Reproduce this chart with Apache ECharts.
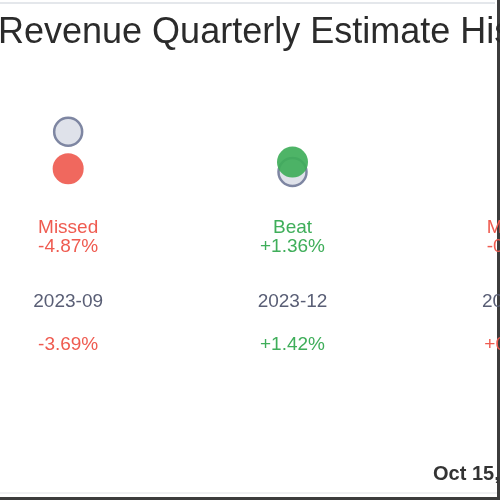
<!DOCTYPE html>
<html lang="en">
<head>
<meta charset="UTF-8">
<title>Revenue Quarterly Estimate History</title>
<script src="https://cdn.jsdelivr.net/npm/echarts@6/dist/echarts.min.js"></script>
<style>
  *{ margin:0; padding:0; }
  body{ background:#fff; }
  #chart{ width:500px; height:500px; }
</style>
</head>
<body>
<div id="chart"></div>
<script type="text/javascript">
    // quarters and revenue (billions) - estimate vs reported
    var quarters = ['2023-09', '2023-12', '2024-03'];
    var estimates = [10.00, 9.47, 9.80];
    var actuals = [9.513, 9.60, 9.75];
    var results = ['Missed', 'Beat', 'Missed'];
    var surprise = ['-4.87%', '+1.36%', '-0.52%'];
    var growth = ['-3.69%', '+1.42%', '+0.83%'];

    var RED = '#ef5b50', GREEN = '#3fae5a';
    function tone(i){ return results[i] == 'Beat' ? GREEN : RED; }
    var labelFont = 'Liberation Sans, Arial, sans-serif';

    var myChart = echarts.init(document.getElementById('chart'));
    var option = {
        animation: false,
        backgroundColor: '#fff',
        grid: { left: -44, top: 100, width: 673, height: 100, containLabel: false, outerBoundsMode: 'none' },
        yAxis: { type: 'value', min: 9.1, max: 10.42, show: false },
        xAxis: [{
            type: 'category', data: quarters, position: 'bottom', offset: 0,
            axisLine: { show: false }, axisTick: { show: false }, splitLine: { show: false },
            axisLabel: {
                margin: 18, fontSize: 19, lineHeight: 19, fontFamily: labelFont,
                color: function (v, i) { return tone(i); },
                formatter: function (v, i) { return results[i] + '\n' + surprise[i]; }
            }
        }, {
            type: 'category', data: quarters, position: 'bottom', offset: 84,
            axisLine: { show: false }, axisTick: { show: false },
            axisLabel: { margin: 8, fontSize: 19, lineHeight: 19, fontFamily: labelFont, color: '#595e75' }
        }, {
            type: 'category', data: quarters, position: 'bottom', offset: 127,
            axisLine: { show: false }, axisTick: { show: false },
            axisLabel: {
                margin: 8, fontSize: 19, lineHeight: 19, fontFamily: labelFont,
                color: function (v, i) { return tone(i); },
                formatter: function (v, i) { return growth[i]; }
            }
        }],
        series: [{
            name: 'Estimate', type: 'scatter', symbolSize: 28,
            itemStyle: { color: '#dfe2ea', borderColor: '#7e86a2', borderWidth: 2.5, opacity: 1 },
            data: estimates
        }, {
            name: 'Actual', type: 'scatter', symbolSize: 31,
            itemStyle: { color: function (p) { return tone(p.dataIndex); }, opacity: 0.92 },
            data: actuals
        }],
        graphic: [
            { type: 'rect', shape: { x: 0, y: 2, width: 495, height: 2 }, style: { fill: '#e4e7eb' } },
            { type: 'rect', shape: { x: 0, y: 492, width: 497, height: 2 }, style: { fill: '#f0f1f3' } },
            { type: 'rect', shape: { x: 497, y: 0, width: 3, height: 500 }, style: { fill: '#3c3c3c' } },
            { type: 'rect', shape: { x: 0, y: 497, width: 500, height: 3 }, style: { fill: '#3c3c3c' } },
            { type: 'text', x: -2, y: 33, style: { text: 'Revenue Quarterly Estimate History', fontSize: 36,
                fontFamily: labelFont, fill: '#2b2b2b', verticalAlign: 'middle' } },
            { type: 'text', x: 433, y: 474, style: { text: 'Oct 15, 2024', fontSize: 20, fontWeight: 'bold',
                fontFamily: labelFont, fill: '#333', verticalAlign: 'middle' } }
        ]
    };
    myChart.setOption(option);
</script>
</body>
</html>
